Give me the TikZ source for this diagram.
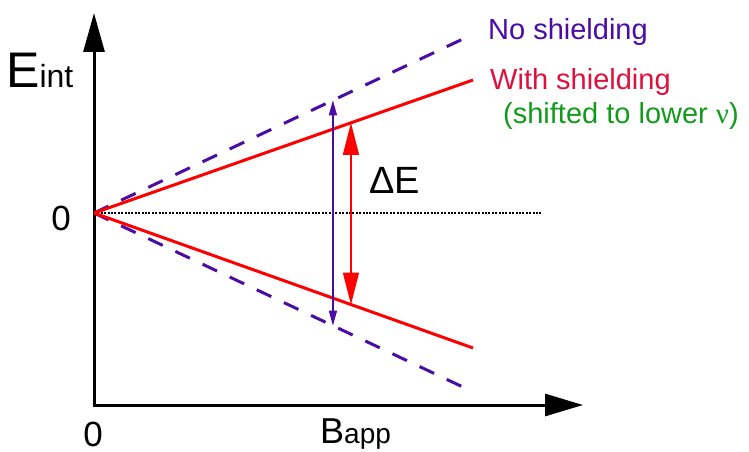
\documentclass[tikz,border=0pt]{standalone}
\usepackage{fontspec}
\setmainfont{Liberation Sans}
\newfontfamily\nugreek{Liberation Serif}
\usepackage{xcolor}
\usetikzlibrary{arrows.meta, positioning, calc}
\definecolor{nmrIndigo}{HTML}{4B0BA5}
\definecolor{nmrRed}{HTML}{FF0000}
\definecolor{nmrCrimson}{HTML}{E0103C}
\definecolor{nmrGreen}{HTML}{129A1A}

\begin{document}
\begin{tikzpicture}[x=1pt,y=-1pt,
  axisline/.style={line width=3pt,{Triangle[length=39pt,width=21pt]}-{Triangle[length=38pt,width=22pt]}},
  noshield/.style={nmrIndigo,line width=3pt,dash pattern=on 16pt off 14pt},
  withshield/.style={nmrRed,line width=3pt},
  lbl/.style={anchor=base west,inner sep=0pt},
  fs/.style={font=\fontsize{#1}{#1}\selectfont}]
\useasboundingbox (0,0) rectangle (749,452);
\coordinate (O) at (94,213);
\coordinate (corner) at (94,405);
\coordinate (ytip) at (94,13);
\coordinate (xtip) at (583,405);
\coordinate (dotend) at (542,213);
\coordinate (nsUp) at (465,38);
\coordinate (nsDown) at (465,388);
\coordinate (wsUp) at (473,80);
\coordinate (wsDown) at (473,348);
\draw[axisline] (ytip) -- (corner) -- (xtip);
\draw[line width=1.2pt,dash pattern=on 2pt off 1.4pt] (O) -- (dotend);
\draw[noshield] (O) -- (nsUp);
\draw[noshield] (O) -- (nsDown);
\draw[withshield] (O) -- (wsUp);
\draw[withshield] (O) -- (wsDown);
\coordinate (nsA) at ($(O)!0.644!(nsUp)$);
\coordinate (nsB) at ($(O)!0.644!(nsDown)$);
\coordinate (wsA) at ($(O)!0.678!(wsUp)$);
\coordinate (wsB) at ($(O)!0.678!(wsDown)$);
\draw[nmrIndigo,line width=1.3pt,{Triangle[length=15pt,width=8pt]}-{Triangle[length=15pt,width=8pt]}] (nsA) -- (nsB);
\draw[nmrRed,line width=1.5pt,{Triangle[length=32pt,width=16pt]}-{Triangle[length=32pt,width=16pt]}] (wsA) -- (wsB);
\node[lbl] (Eint) at (6,87) {{\fontsize{50}{50}\selectfont E}{\fontsize{32}{32}\selectfont int}};
\node[anchor=base,inner sep=0pt,fs=35] (zeroE) at (61,230) {0};
\node[anchor=base,inner sep=0pt,fs=35] (zeroB) at (93,446) {0};
\node[lbl] (Bapp) at (320,443) {{\fontsize{36}{36}\selectfont B}{\fontsize{28}{28}\selectfont app}};
\node[lbl,fs=38] (dE) at (369,193) {ΔE};
\node[lbl,fs=29,text=nmrIndigo] (noShield) at (488,40) {No shielding};
\node[lbl,fs=29,text=nmrCrimson] (withShield) at (490,89) {With shielding};
\node[lbl,fs=29,text=nmrGreen] (shifted) at (503,123) {(shifted to lower {\nugreek ν})};
\end{tikzpicture}
\end{document}
